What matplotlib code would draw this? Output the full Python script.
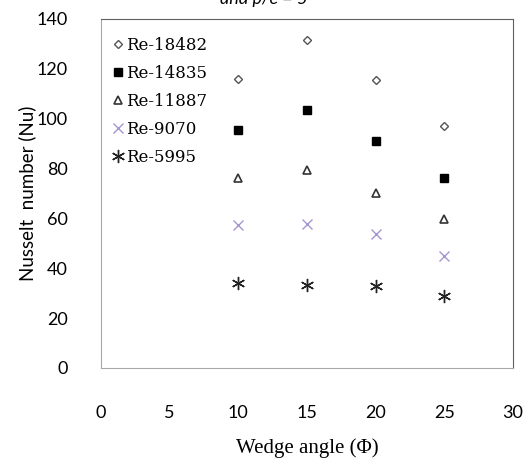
import numpy as np
import matplotlib

matplotlib.use("Agg")
import matplotlib.pyplot as plt

# wedge angles and Nusselt numbers per Reynolds number
angles = [10, 15, 20, 25]
nu_18482 = [115.9, 131.5, 115.5, 97.2]
nu_14835 = [95.5, 103.5, 91.2, 76.3]
nu_11887 = [76.3, 79.5, 70.1, 59.9]
nu_9070 = [57.2, 57.9, 53.9, 44.8]
nu_5995 = [33.9, 33.2, 32.8, 28.8]

labels = ["Re-18482", "Re-14835", "Re-11887", "Re-9070", "Re-5995"]
x_ticks = [0, 5, 10, 15, 20, 25, 30]
y_ticks = [0, 20, 40, 60, 80, 100, 120, 140]

series = [nu_18482, nu_14835, nu_11887, nu_9070, nu_5995]
styles = [
    dict(marker="D", markersize=4.5, mfc="white", mec="#555555", mew=1.0),
    dict(marker="s", markersize=5.2, mfc="black", mec="black", mew=1.0),
    dict(marker="^", markersize=6, mfc="white", mec="#333333", mew=1.2),
    dict(marker="x", markersize=7.5, mec="#a696cf", mew=1.0),
    dict(marker=(6, 2, 0), markersize=9.5, mec="#222222", mew=1.0),
]

fig = plt.figure(figsize=(5.27, 4.63), dpi=100)
ax = fig.add_axes([0.1917, 0.2052, 0.7817, 0.7538])

for vals, lab, st in zip(series, labels, styles):
    ax.plot(angles, vals, linestyle="none", label=lab, **st)

ax.set_xlim(0, 30)
ax.set_ylim(0, 140)
ax.set_xticks(x_ticks)
ax.set_yticks(y_ticks)
ax.tick_params(length=0, labelsize=13)
ax.tick_params(axis="x", pad=27)
ax.tick_params(axis="y", pad=24)
for lab in ax.get_xticklabels() + ax.get_yticklabels():
    lab.set_fontfamily("Lato")

for side in ["left", "bottom"]:
    ax.spines[side].set_color("#a8a8a8")
for side in ["top", "right"]:
    ax.spines[side].set_color("#606060")

ax.set_ylabel("Nusselt  number (Nu)", fontsize=13.5, family="Lato", labelpad=0)
ax.set_xlabel("Wedge angle (\u03a6)", fontsize=15, family="Liberation Serif", labelpad=12)

leg = ax.legend(loc="upper left", bbox_to_anchor=(0.013, 0.968), frameon=False,
                prop={"family": "DejaVu Serif", "size": 12},
                handlelength=0.6, handletextpad=0.2, labelspacing=0.66,
                borderaxespad=0.0, borderpad=0.4)

# title is clipped at the top edge in the original
fig.text(0.5, 0.992, "and p/e = 5", ha="center", va="baseline", fontsize=13,
         style="italic", family="Lato")

fig.savefig("out.png", dpi=100)
